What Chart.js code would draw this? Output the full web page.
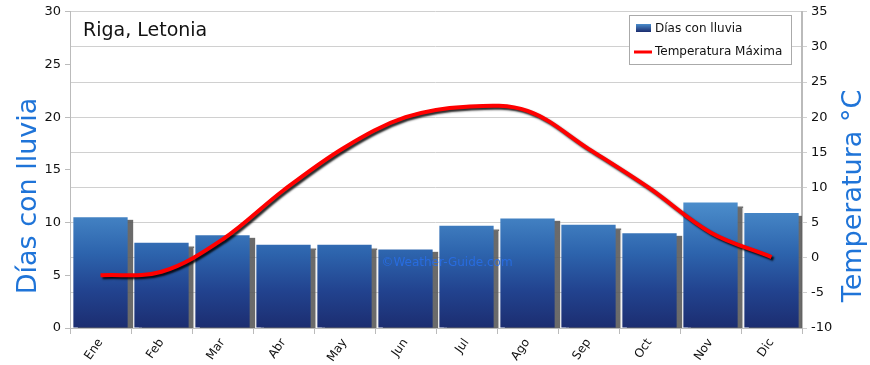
<!DOCTYPE html>
<html><head><meta charset="utf-8">
<script src="https://cdn.jsdelivr.net/npm/chart.js@4/dist/chart.umd.min.js"></script>
<style>html,body{margin:0;padding:0;background:#fff;overflow:hidden}canvas{display:block}</style>
</head><body>
<canvas id="c" width="870" height="365"></canvas>
<script>
const months = ['Ene','Feb','Mar','Abr','May','Jun','Jul','Ago','Sep','Oct','Nov','Dic'];
const rainDays = [10.5, 8.1, 8.8, 7.9, 7.9, 7.45, 9.7, 10.4, 9.8, 9.0, 11.9, 10.9];
const maxTemp = [-2.5, -2.0, 2.6, 9.6, 15.7, 20.0, 21.5, 20.9, 15.5, 9.9, 3.6, 0.1];
const chartTitle = 'Riga, Letonia';
const watermark = '©Weather-Guide.com';
const leftTitle = 'Días con lluvia';
const rightTitle = 'Temperatura °C';
const FONT = '"DejaVu Sans", sans-serif';

function barGradient(ctx) {
  const ca = ctx.chart.chartArea;
  if (!ca) return '#2a5aa8';
  const g = ctx.chart.ctx.createLinearGradient(0, ca.bottom, 0, ca.bottom - 125);
  g.addColorStop(0, '#1c2d70');
  g.addColorStop(0.3, '#22438f');
  g.addColorStop(0.6, '#2d64ad');
  g.addColorStop(1, '#4b8dcb');
  return g;
}

const shadowPlugin = {
  id: 'shadows',
  beforeDatasetDraw(chart, args) {
    const ctx = chart.ctx;
    ctx.save();
    if (args.index === 0) {
      ctx.shadowColor = 'rgba(90,90,90,0.9)';
      ctx.shadowOffsetX = 5; ctx.shadowOffsetY = 3; ctx.shadowBlur = 1;
    } else {
      ctx.shadowColor = 'rgba(0,0,0,0.85)';
      ctx.shadowOffsetX = 2; ctx.shadowOffsetY = 2; ctx.shadowBlur = 2;
    }
  },
  afterDatasetDraw(chart, args) {
    chart.ctx.restore();
    if (args.index === 0) {
      const ctx = chart.ctx, ca = chart.chartArea;
      ctx.save();
      ctx.font = '12px ' + FONT;
      ctx.fillStyle = 'rgba(40,110,230,0.9)';
      ctx.textAlign = 'center'; ctx.textBaseline = 'middle';
      ctx.fillText(watermark, (ca.left + ca.right) / 2 + 11, 263);
      ctx.restore();
    }
  }
};

const decorPlugin = {
  id: 'decor',
  afterDraw(chart) {
    const ctx = chart.ctx, ca = chart.chartArea;
    ctx.save();
    // axis titles
    ctx.font = '27px ' + FONT;
    ctx.fillStyle = '#1f74d8';
    ctx.textAlign = 'center'; ctx.textBaseline = 'middle';
    ctx.save(); ctx.translate(29, 196); ctx.rotate(-Math.PI / 2); ctx.fillText(leftTitle, 0, 0); ctx.restore();
    ctx.save(); ctx.translate(854, 196); ctx.rotate(-Math.PI / 2); ctx.fillText(rightTitle, 0, 0); ctx.restore();
    // title
    ctx.font = '19px ' + FONT;
    ctx.fillStyle = '#111';
    ctx.textAlign = 'left';
    ctx.fillText(chartTitle, ca.left + 13, 31);
    // legend
    const lx = 629, ly = 15, lw = 162, lh = 49;
    ctx.fillStyle = '#fff';
    ctx.fillRect(lx, ly, lw, lh);
    ctx.strokeStyle = '#aaa'; ctx.lineWidth = 1;
    ctx.strokeRect(lx + 0.5, ly + 0.5, lw, lh);
    const ds = chart.data.datasets;
    const g = ctx.createLinearGradient(0, ly + 9, 0, ly + 17);
    g.addColorStop(0, '#4a8ccb'); g.addColorStop(1, '#1b2c6e');
    ctx.fillStyle = g;
    ctx.fillRect(lx + 7, ly + 9, 15, 8);
    ctx.strokeStyle = '#ff0000'; ctx.lineWidth = 3;
    ctx.beginPath(); ctx.moveTo(lx + 5, ly + 37); ctx.lineTo(lx + 23, ly + 37); ctx.stroke();
    ctx.font = '12px ' + FONT; ctx.fillStyle = '#111';
    ctx.fillText(ds[0].label, lx + 26, ly + 14);
    ctx.fillText(ds[1].label, lx + 26, ly + 37);
    ctx.restore();
  }
};

new Chart(document.getElementById('c'), {
  data: {
    labels: months,
    datasets: [
      { type: 'bar', label: 'Días con lluvia', data: rainDays, yAxisID: 'y',
        backgroundColor: barGradient, borderWidth: 0,
        barPercentage: 0.89, categoryPercentage: 1.0, order: 2 },
      { type: 'line', label: 'Temperatura Máxima', data: maxTemp, yAxisID: 'y1',
        borderColor: '#ff0000', borderWidth: 4, pointRadius: 0, tension: 0.35,
        fill: false, order: 1 }
    ]
  },
  options: {
    responsive: false, animation: false,
    layout: { padding: { top: 10, left: 0, right: 0, bottom: 0 } },
    plugins: { legend: { display: false }, tooltip: { enabled: false } },
    scales: {
      x: {
        grid: { display: true, drawOnChartArea: false, color: '#bbb', tickLength: 6, offset: true },
        border: { color: '#bbb' },
        ticks: { color: '#111', font: { family: FONT, size: 12 }, minRotation: 55, maxRotation: 55, padding: 2 },
        afterFit(s) { s.height = 37; }
      },
      y: {
        position: 'left', min: 0, max: 30,
        ticks: { stepSize: 5, color: '#111', font: { family: FONT, size: 13 }, padding: 4 },
        grid: { drawOnChartArea: false, color: '#bbb', tickLength: 5 },
        border: { color: '#bbb' },
        afterFit(s) { s.width = 70; }
      },
      y1: {
        position: 'right', min: -10, max: 35,
        ticks: { stepSize: 5, color: '#111', font: { family: FONT, size: 13 }, padding: 4 },
        grid: { color: '#d0d0d0', tickLength: 5 },
        border: { color: '#bbb', width: 2 },
        afterFit(s) { s.width = 68; }
      }
    }
  },
  plugins: [shadowPlugin, decorPlugin]
});
</script>
</body></html>
